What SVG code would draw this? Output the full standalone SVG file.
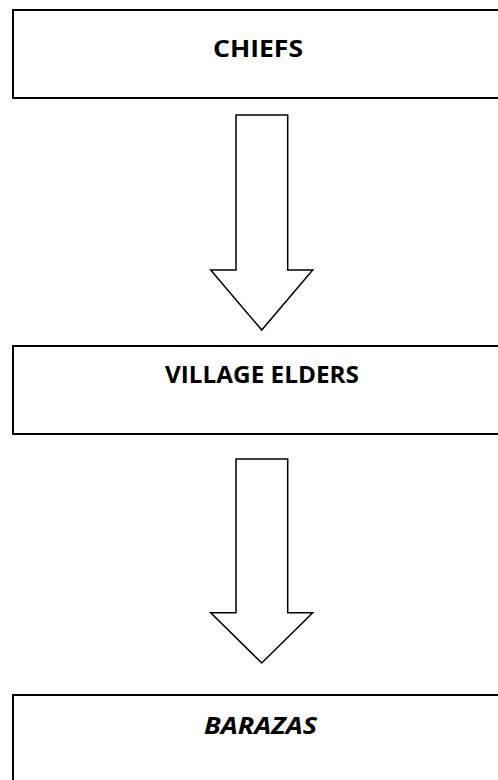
<svg xmlns="http://www.w3.org/2000/svg" width="498" height="780" viewBox="0 0 498 780">
<style>
.box{fill:#fff;stroke:#000;stroke-width:2}
.arr{fill:#fff;stroke:#000;stroke-width:1.5;stroke-linejoin:miter}
.lbl{font-family:"Open Sans","Liberation Sans",sans-serif;font-weight:bold;font-size:23px;fill:#000;text-anchor:middle}
</style>
<rect width="498" height="780" fill="#fff"/>
<g id="connectors">
<polygon class="arr" points="236,115 287.7,115 287.7,270 312.7,270 261.7,330 210.7,270 236,270"/>
<polygon class="arr" points="236,459 287.7,459 287.7,612.7 312.7,612.7 261.7,663 210.7,612.7 236,612.7"/>
</g>
<g id="chiefs">
<rect class="box" x="13" y="10" width="500" height="88"/>
<text class="lbl" x="258" y="57" textLength="90" lengthAdjust="spacingAndGlyphs">CHIEFS</text>
</g>
<g id="village-elders">
<rect class="box" x="13" y="346" width="500" height="88"/>
<text class="lbl" x="262" y="383" textLength="194" lengthAdjust="spacingAndGlyphs">VILLAGE ELDERS</text>
</g>
<g id="barazas">
<rect class="box" x="13" y="695" width="500" height="100"/>
<text class="lbl" x="260.5" y="734" font-style="italic" textLength="113" lengthAdjust="spacingAndGlyphs">BARAZAS</text>
</g>
</svg>
